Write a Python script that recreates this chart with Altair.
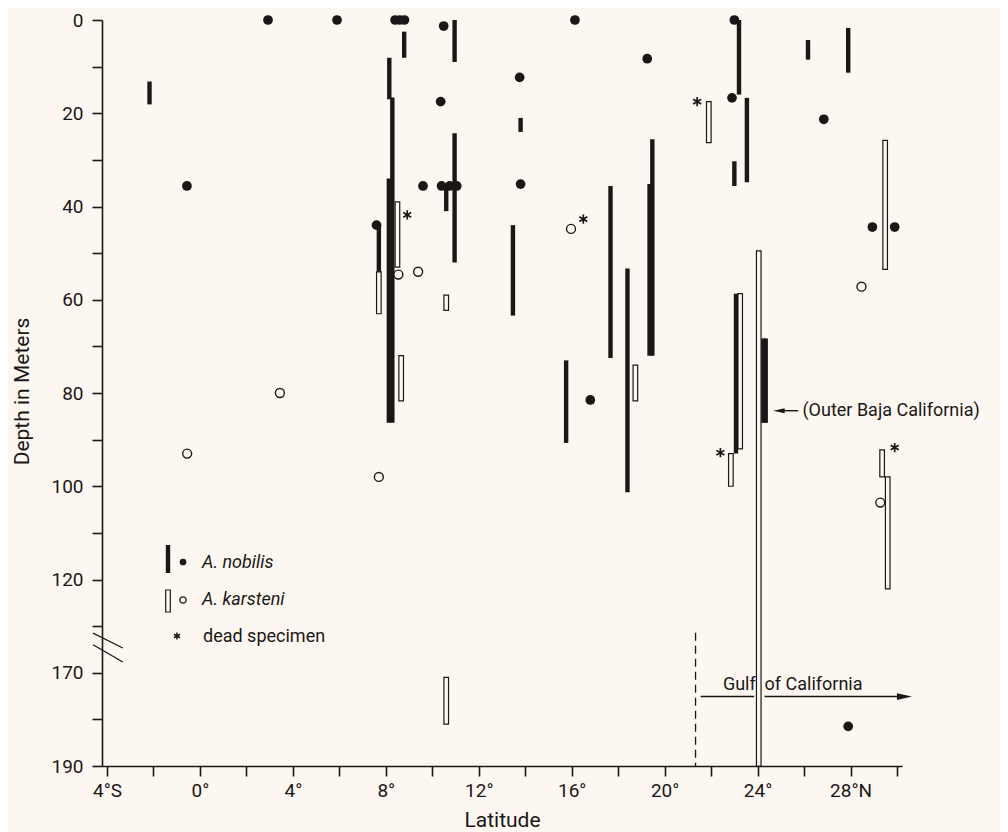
import altair as alt
import pandas as pd

BG = "#fcf8f1"
INK = "#1c1616"
FONT = "Roboto"

# ---------------- data (latitude in degrees, depth in metres) ----------------
nob_bar_lat = [-2.17, 8.79, 10.96, 8.15, 8.28, 8.13, 7.7, 10.6, 10.96, 13.8, 13.47,
               15.76, 17.67, 18.4, 19.35, 19.47, 23.2, 23.54, 23.0, 26.17, 27.9,
               23.07, 24.25, 24.35]
nob_bar_top = [13.2, 2.5, 0.0, 8.1, 16.6, 34.0, 44.0, 35.6, 24.3, 21.0, 44.0,
               73.0, 35.6, 53.3, 35.2, 25.6, 0.0, 16.7, 30.3, 4.3, 1.7,
               58.7, 68.3, 68.3]
nob_bar_bot = [18.1, 8.1, 9.0, 17.0, 86.4, 86.4, 54.0, 41.0, 52.0, 24.0, 63.4,
               90.7, 72.5, 101.3, 72.0, 72.0, 16.0, 34.8, 35.6, 8.5, 11.3,
               93.0, 86.4, 86.4]

nob_dot_lat = [2.93, 5.9, 8.4, 8.6, 8.8, 10.49, 16.14, 23.0, 10.36, 13.76, 19.25,
               13.8, -0.56, 9.6, 10.4, 10.75, 11.05, 7.6, 22.9, 26.85, 28.94, 29.9,
               16.8, 27.9]
nob_dot_dep = [0.0, 0.0, 0.0, 0.0, 0.0, 1.3, 0.0, 0.0, 17.5, 12.3, 8.3,
               35.2, 35.6, 35.6, 35.6, 35.6, 35.6, 44.0, 16.7, 21.3, 44.4, 44.4,
               81.5, 181.5]

kar_bar_lat = [7.7, 8.5, 10.6, 8.66, 10.6, 18.74, 21.9, 22.85, 23.25, 24.05, 29.49,
               29.36, 29.6]
kar_bar_top = [54.0, 39.0, 59.0, 72.0, 171.0, 74.0, 17.5, 93.0, 58.7, 49.5, 25.8,
               92.2, 98.0]
kar_bar_bot = [63.0, 53.0, 62.3, 81.7, 181.0, 81.7, 26.3, 100.0, 92.0, 190.0, 53.5,
               98.0, 122.0]

kar_circ_lat = [-0.55, 3.44, 7.7, 8.54, 9.39, 15.97, 28.47, 29.28]
kar_circ_dep = [93.0, 80.0, 98.0, 54.6, 54.0, 44.8, 57.2, 103.5]

dead_lat = [8.92, 16.5, 21.4, 22.4, 29.9]
dead_dep = [41.8, 42.7, 17.5, 92.8, 91.7]

# annotations
gulf_boundary_lat = 21.33
gulf_boundary_top = 161.4
gulf_arrow_dep = 175.1
gulf_arrow_segments = [(21.55, 23.85), (24.3, 30.3)]
gulf_arrow_tip_lat = 30.32
baja_arrow_dep = 83.8
baja_arrow_line = (25.15, 25.75)
baja_arrow_head_lat = 24.92
baja_text_lat = 25.93

x_ticks = list(range(-4, 31, 2))
y_ticks = list(range(0, 161, 10))


def disp(d):
    """Broken depth axis: 0-130 m drawn as is, below the break (>=150 m) shifted up 30."""
    return d - 30 if d >= 150 else d


# ---------------- frames ----------------
nob_bars = pd.DataFrame({"lat": nob_bar_lat,
                         "y": [disp(v) for v in nob_bar_top],
                         "y2": [disp(v) for v in nob_bar_bot]})
kar_bars = pd.DataFrame({"lat": kar_bar_lat,
                         "y": [disp(v) for v in kar_bar_top],
                         "y2": [disp(v) for v in kar_bar_bot]})
nob_dots = pd.DataFrame({"lat": nob_dot_lat, "y": [disp(v) for v in nob_dot_dep]})
kar_circ = pd.DataFrame({"lat": kar_circ_lat, "y": [disp(v) for v in kar_circ_dep]})
dead = pd.DataFrame({"lat": dead_lat, "y": [disp(v) for v in dead_dep]})

xscale = alt.Scale(domain=[-4, 30], nice=False, zero=False)
yscale = alt.Scale(domain=[0, 160], nice=False, zero=False, reverse=True)

x_label_expr = ("datum.value == -4 ? '4°S' : (datum.value == 28 ? '28°N' : "
                "(datum.value % 4 == 0 ? datum.value + '°' : ''))")
y_label_expr = ("datum.value <= 120 ? (datum.value % 20 == 0 ? '' + datum.value : '') : "
                "(datum.value == 140 ? '170' : (datum.value == 160 ? '190' : ''))")

xaxis = alt.Axis(values=x_ticks, labelExpr=x_label_expr, title="Latitude", grid=False,
                 domainColor=INK, domainWidth=1.6, tickColor=INK, tickWidth=1.6,
                 tickSize=10, labelFontSize=19, labelColor=INK, labelPadding=5,
                 labelFont=FONT, titleFont=FONT, titleFontSize=21,
                 titleFontWeight="normal", titleColor=INK, titleY=60,
                 titleBaseline="alphabetic", labelFlush=False, labelOverlap=False)
yaxis = alt.Axis(values=y_ticks, labelExpr=y_label_expr, title="Depth in Meters",
                 grid=False, domainColor=INK, domainWidth=1.6, tickColor=INK,
                 tickWidth=1.6, tickSize=10, labelFontSize=19, labelColor=INK,
                 labelPadding=9, labelFont=FONT, titleFont=FONT, titleFontSize=21,
                 titleFontWeight="normal", titleColor=INK, titleX=-74, titleY=371,
                 titleBaseline="alphabetic", labelFlush=False, labelOverlap=False)

X = alt.X("lat:Q", scale=xscale, axis=xaxis)
Y = alt.Y("y:Q", scale=yscale, axis=yaxis)

ASTER = "M0,-1L0,1M-0.866,-0.5L0.866,0.5M-0.866,0.5L0.866,-0.5"
TRI_R = "M1,0L-1,-0.45L-1,0.45Z"
TRI_L = "M-1,0L1,-0.45L1,0.45Z"

layers = []

# karsteni open bars
layers.append(alt.Chart(kar_bars).mark_bar(size=4.6, fill=BG, stroke=INK,
                                            strokeWidth=1.2).encode(X, Y, y2="y2:Q"))
# nobilis filled bars
layers.append(alt.Chart(nob_bars).mark_rule(strokeWidth=4.4, color=INK).encode(X, Y, y2="y2:Q"))
# nobilis dots
layers.append(alt.Chart(nob_dots).mark_point(shape="circle", filled=True, color=INK,
                                              size=95, opacity=1).encode(X, Y))
# karsteni circles
layers.append(alt.Chart(kar_circ).mark_point(shape="circle", filled=True, fill=BG,
                                              stroke=INK, strokeWidth=1.4, size=80,
                                              opacity=1).encode(X, Y))
# dead specimen asterisks
layers.append(alt.Chart(dead).mark_point(shape=ASTER, filled=False, stroke=INK,
                                          strokeWidth=1.7, size=85, opacity=1).encode(X, Y))

# Gulf of California boundary (dashed) and arrow
gb = pd.DataFrame({"lat": [gulf_boundary_lat], "y": [disp(gulf_boundary_top)], "y2": [disp(190)]})
layers.append(alt.Chart(gb).mark_rule(color=INK, strokeWidth=1.3, strokeDash=[8, 5]).encode(X, Y, y2="y2:Q"))

ga = pd.DataFrame({"lat": [s[0] for s in gulf_arrow_segments],
                   "lat2": [s[1] for s in gulf_arrow_segments],
                   "y": [disp(gulf_arrow_dep)] * len(gulf_arrow_segments)})
layers.append(alt.Chart(ga).mark_rule(color=INK, strokeWidth=1.4).encode(X, x2="lat2:Q", y=Y))
gh = pd.DataFrame({"lat": [gulf_arrow_tip_lat], "y": [disp(gulf_arrow_dep)]})
layers.append(alt.Chart(gh).mark_point(shape=TRI_R, filled=True, color=INK, size=225,
                                        opacity=1).encode(X, Y))
gt_r = pd.DataFrame({"lat": [23.92], "y": [disp(gulf_arrow_dep)], "t": ["Gulf"]})
gt_l = pd.DataFrame({"lat": [24.3], "y": [disp(gulf_arrow_dep)], "t": ["of California"]})
layers.append(alt.Chart(gt_r).mark_text(align="right", baseline="alphabetic", dy=-7,
                                         fontSize=18, font=FONT, color=INK).encode(X, Y, text="t:N"))
layers.append(alt.Chart(gt_l).mark_text(align="left", baseline="alphabetic", dy=-7,
                                         fontSize=18, font=FONT, color=INK).encode(X, Y, text="t:N"))

# Outer Baja California arrow
ba = pd.DataFrame({"lat": [baja_arrow_line[0]], "lat2": [baja_arrow_line[1]], "y": [baja_arrow_dep]})
layers.append(alt.Chart(ba).mark_rule(color=INK, strokeWidth=1.4).encode(X, x2="lat2:Q", y=Y))
bh = pd.DataFrame({"lat": [baja_arrow_head_lat], "y": [baja_arrow_dep]})
layers.append(alt.Chart(bh).mark_point(shape=TRI_L, filled=True, color=INK, size=130,
                                        opacity=1).encode(X, Y))
bt = pd.DataFrame({"lat": [baja_text_lat], "y": [baja_arrow_dep], "t": ["(Outer Baja California)"]})
layers.append(alt.Chart(bt).mark_text(align="left", baseline="middle", fontSize=18, font=FONT,
                                       color=INK).encode(X, Y, text="t:N"))

# axis break slashes
brk = pd.DataFrame({"lat": [-4.6, -4.6], "lat2": [-3.32, -3.32],
                    "y": [131.5, 134.0], "y2": [134.7, 137.7]})
layers.append(alt.Chart(brk).mark_rule(color=INK, strokeWidth=1.3).encode(
    X, x2="lat2:Q", y=Y, y2="y2:Q"))

# legend (manual)
one = pd.DataFrame({"k": [0]})
layers.append(alt.Chart(one).mark_rule(color=INK, strokeWidth=4.4).encode(
    x=alt.value(66), y=alt.value(525), y2=alt.value(553)))
layers.append(alt.Chart(one).mark_point(shape="circle", filled=True, color=INK, size=45,
                                         opacity=1).encode(x=alt.value(81), y=alt.value(542)))
layers.append(alt.Chart(one).mark_rect(fill=BG, stroke=INK, strokeWidth=1.2).encode(
    x=alt.value(63.7), x2=alt.value(68.3), y=alt.value(570), y2=alt.value(592)))
layers.append(alt.Chart(one).mark_point(shape="circle", filled=True, fill=BG, stroke=INK,
                                         strokeWidth=1.3, size=40, opacity=1).encode(
    x=alt.value(81), y=alt.value(580)))
layers.append(alt.Chart(one).mark_point(shape=ASTER, filled=False, stroke=INK, strokeWidth=1.5,
                                         size=50, opacity=1).encode(x=alt.value(75), y=alt.value(616)))
layers.append(alt.Chart(one).mark_text(align="left", baseline="alphabetic", fontSize=18,
                                        fontStyle="italic", font=FONT, color=INK).encode(
    x=alt.value(100), y=alt.value(548), text=alt.value("A. nobilis")))
layers.append(alt.Chart(one).mark_text(align="left", baseline="alphabetic", fontSize=18,
                                        fontStyle="italic", font=FONT, color=INK).encode(
    x=alt.value(100), y=alt.value(585), text=alt.value("A. karsteni")))
layers.append(alt.Chart(one).mark_text(align="left", baseline="alphabetic", fontSize=18,
                                        font=FONT, color=INK).encode(
    x=alt.value(101), y=alt.value(622), text=alt.value("dead specimen")))

chart = alt.layer(*layers).properties(
    width=800, height=746,
    padding={"left": 94, "top": 12, "right": 98, "bottom": 66},
    autosize=alt.AutoSizeParams(type="none"),
    background=BG,
).configure_view(stroke=None)

chart.save("out.html", embed_options={"renderer": "svg", "actions": False})
